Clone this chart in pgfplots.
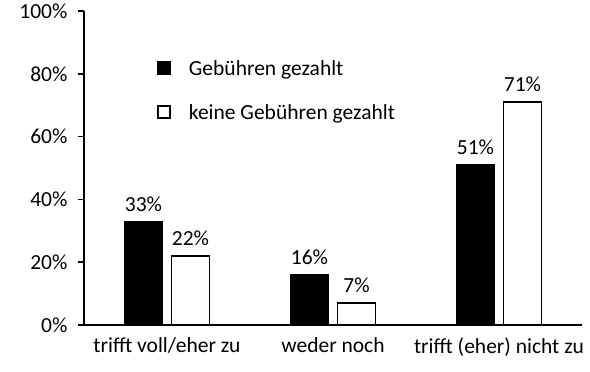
\documentclass[border=0pt]{standalone}
\usepackage{fontspec}
\setmainfont{Carlito}
\usepackage{pgfplots}
\pgfplotsset{compat=1.18}
\begin{document}
\begin{tikzpicture}
\begin{axis}[
  scale only axis, width=498pt, height=314pt,
  xmin=-0.5, xmax=2.5, ymin=0, ymax=100,
  axis x line=bottom, axis y line=left,
  axis line style={line width=1.5pt,-},
  ybar=9pt, bar width=38pt,
  xtick={0,1,2},
  xticklabels={trifft voll/eher zu, weder noch, trifft (eher) nicht zu},
  x tick style={draw=none},
  ytick={0,20,40,60,80,100},
  yticklabels={0\%,20\%,40\%,60\%,80\%,100\%},
  tick align=outside, major tick length=6pt,
  y tick style={line width=1.5pt, black},
  tick label style={font=\fontsize{21.5}{26}\selectfont, text=black},
  yticklabel style={xshift=-7pt},
  xticklabel style={yshift=-3pt},
  nodes near coords={\pgfmathprintnumber{\pgfplotspointmeta}\%},
  nodes near coords style={font=\fontsize{21.5}{26}\selectfont, /pgf/number format/assume math mode=true, yshift=6pt},
  legend style={at={(0.147,0.843)}, anchor=north west, draw=none, fill=none, inner sep=0pt,
    row sep=29pt, font=\fontsize{21.5}{26}\selectfont, nodes={inner sep=0pt, text depth=0pt}},
  legend cell align=left,
]
\addplot[fill=black, draw=black, line width=1.5pt,
  legend image code/.code={\draw[fill=black, draw=black, line width=1.5pt] (0pt,-6pt) rectangle (12pt,6pt); \path (30pt,0pt);}]
  coordinates {(0,33) (1,16) (2,51)};
\addlegendentry{Gebühren gezahlt}
\addplot[fill=white, draw=black, line width=1.5pt,
  legend image code/.code={\draw[fill=white, draw=black, line width=1.5pt] (0pt,-6pt) rectangle (12pt,6pt); \path (30pt,0pt);}]
  coordinates {(0,22) (1,7) (2,71)};
\addlegendentry{keine Gebühren gezahlt}
\end{axis}
\path ([xshift=-84pt,yshift=-47pt]current axis.south west) rectangle ++(590pt,372pt);
\end{tikzpicture}
\end{document}
